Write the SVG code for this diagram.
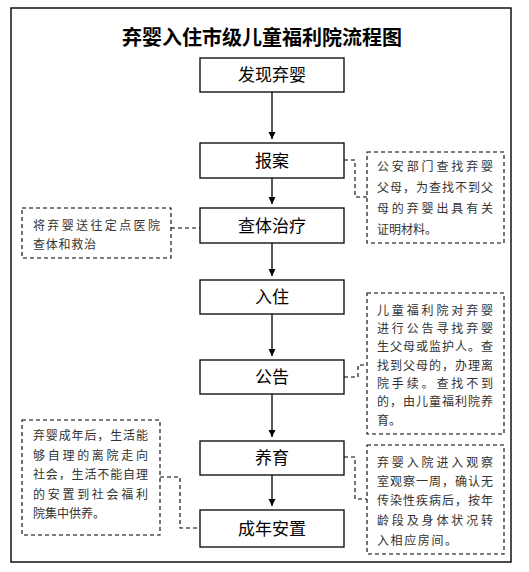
<svg xmlns="http://www.w3.org/2000/svg" width="529" height="572" viewBox="0 0 529 572">
<defs>
<marker id="ah" markerUnits="userSpaceOnUse" markerWidth="8" markerHeight="8" refX="7" refY="3.5" orient="auto">
<path d="M0,0 L7,3.5 L0,7 z" fill="#000"/>
</marker>
<style>
.frame{fill:#fff;stroke:#000;stroke-width:1.4}
.box{fill:#fff;stroke:#000;stroke-width:1.3}
.dbox{fill:#fff;stroke:#000;stroke-width:1.1;stroke-dasharray:4 3}
.dline{fill:none;stroke:#000;stroke-width:1.1;stroke-dasharray:4 3}
.arrow{fill:none;stroke:#000;stroke-width:1.3;marker-end:url(#ah)}
.title{font-family:"Liberation Sans","Noto Sans CJK SC",sans-serif;font-size:20px;font-weight:bold;fill:#000;text-anchor:middle}
.main{font-family:"Liberation Sans","Noto Sans CJK SC",sans-serif;font-size:17px;fill:#000;text-anchor:middle}
.note{font-family:"Liberation Sans","Noto Sans CJK SC",sans-serif;font-size:12px;fill:#333}
</style>
</defs>
<rect x="0" y="0" width="529" height="572" fill="#fff"/>
<rect class="frame" x="11" y="8" width="500" height="554"/>
<text class="title" x="262" y="45">弃婴入住市级儿童福利院流程图</text>

<g id="connectors">
<line class="arrow" x1="272" y1="92" x2="272" y2="139"/>
<line class="arrow" x1="272" y1="178" x2="272" y2="204"/>
<line class="arrow" x1="272" y1="243" x2="272" y2="276"/>
<line class="arrow" x1="272" y1="314" x2="272" y2="356"/>
<line class="arrow" x1="272" y1="394" x2="272" y2="437"/>
<line class="arrow" x1="272" y1="475" x2="272" y2="506"/>
<polyline class="dline" points="344,160 355,160 355,197 367,197"/>
<polyline class="dline" points="171,228 200,228"/>
<polyline class="dline" points="344,377 358,377 358,365 367,365"/>
<polyline class="dline" points="160,477 180,477 180,528 200,528"/>
<polyline class="dline" points="344,457 355,457 355,499 367,499"/>
</g>

<g id="n1"><rect class="box" x="200" y="58" width="144" height="34"/><text class="main" x="272" y="81">发现弃婴</text></g>
<g id="n2"><rect class="box" x="200" y="143" width="144" height="35"/><text class="main" x="272" y="166.5">报案</text></g>
<g id="n3"><rect class="box" x="200" y="208" width="144" height="35"/><text class="main" x="272" y="231.5">查体治疗</text></g>
<g id="n4"><rect class="box" x="200" y="280" width="144" height="34"/><text class="main" x="272" y="303">入住</text></g>
<g id="n5"><rect class="box" x="200" y="360" width="144" height="34"/><text class="main" x="272" y="383">公告</text></g>
<g id="n6"><rect class="box" x="200" y="441" width="144" height="34"/><text class="main" x="272" y="464">养育</text></g>
<g id="n7"><rect class="box" x="200" y="510" width="144" height="37"/><text class="main" x="272" y="534.5">成年安置</text></g>

<g id="note1">
<rect class="dbox" x="367" y="152" width="137" height="91"/>
<text class="note" x="377" y="171" textLength="116" lengthAdjust="spacing">公安部门查找弃婴</text>
<text class="note" x="377" y="192" textLength="116" lengthAdjust="spacing">父母，为查找不到父</text>
<text class="note" x="377" y="213" textLength="116" lengthAdjust="spacing">母的弃婴出具有关</text>
<text class="note" x="377" y="234">证明材料。</text>
</g>
<g id="note2">
<rect class="dbox" x="22" y="208" width="149" height="50"/>
<text class="note" x="33" y="230" textLength="127" lengthAdjust="spacing">将弃婴送往定点医院</text>
<text class="note" x="33" y="249" textLength="63" lengthAdjust="spacing">查体和救治</text>
</g>
<g id="note3">
<rect class="dbox" x="367" y="293" width="137" height="141"/>
<text class="note" x="377" y="314.5" textLength="116" lengthAdjust="spacing">儿童福利院对弃婴</text>
<text class="note" x="377" y="333" textLength="116" lengthAdjust="spacing">进行公告寻找弃婴</text>
<text class="note" x="377" y="351" textLength="116" lengthAdjust="spacing">生父母或监护人。查</text>
<text class="note" x="377" y="369.5" textLength="116" lengthAdjust="spacing">找到父母的，办理离</text>
<text class="note" x="377" y="388" textLength="116" lengthAdjust="spacing">院手续。查找不到</text>
<text class="note" x="377" y="406" textLength="116" lengthAdjust="spacing">的，由儿童福利院养</text>
<text class="note" x="377" y="424.5">育。</text>
</g>
<g id="note4">
<rect class="dbox" x="22" y="420" width="138" height="115"/>
<text class="note" x="33" y="439.5" textLength="115" lengthAdjust="spacing">弃婴成年后，生活能</text>
<text class="note" x="33" y="459.5" textLength="115" lengthAdjust="spacing">够自理的离院走向</text>
<text class="note" x="33" y="478.5" textLength="115" lengthAdjust="spacing">社会，生活不能自理</text>
<text class="note" x="33" y="498.5" textLength="115" lengthAdjust="spacing">的安置到社会福利</text>
<text class="note" x="33" y="517.5">院集中供养。</text>
</g>
<g id="note5">
<rect class="dbox" x="367" y="445" width="137" height="109"/>
<text class="note" x="377" y="467" textLength="116" lengthAdjust="spacing">弃婴入院进入观察</text>
<text class="note" x="377" y="486" textLength="116" lengthAdjust="spacing">室观察一周，确认无</text>
<text class="note" x="377" y="505" textLength="116" lengthAdjust="spacing">传染性疾病后，按年</text>
<text class="note" x="377" y="525" textLength="116" lengthAdjust="spacing">龄段及身体状况转</text>
<text class="note" x="377" y="545" textLength="80" lengthAdjust="spacing">入相应房间。</text>
</g>
</svg>
